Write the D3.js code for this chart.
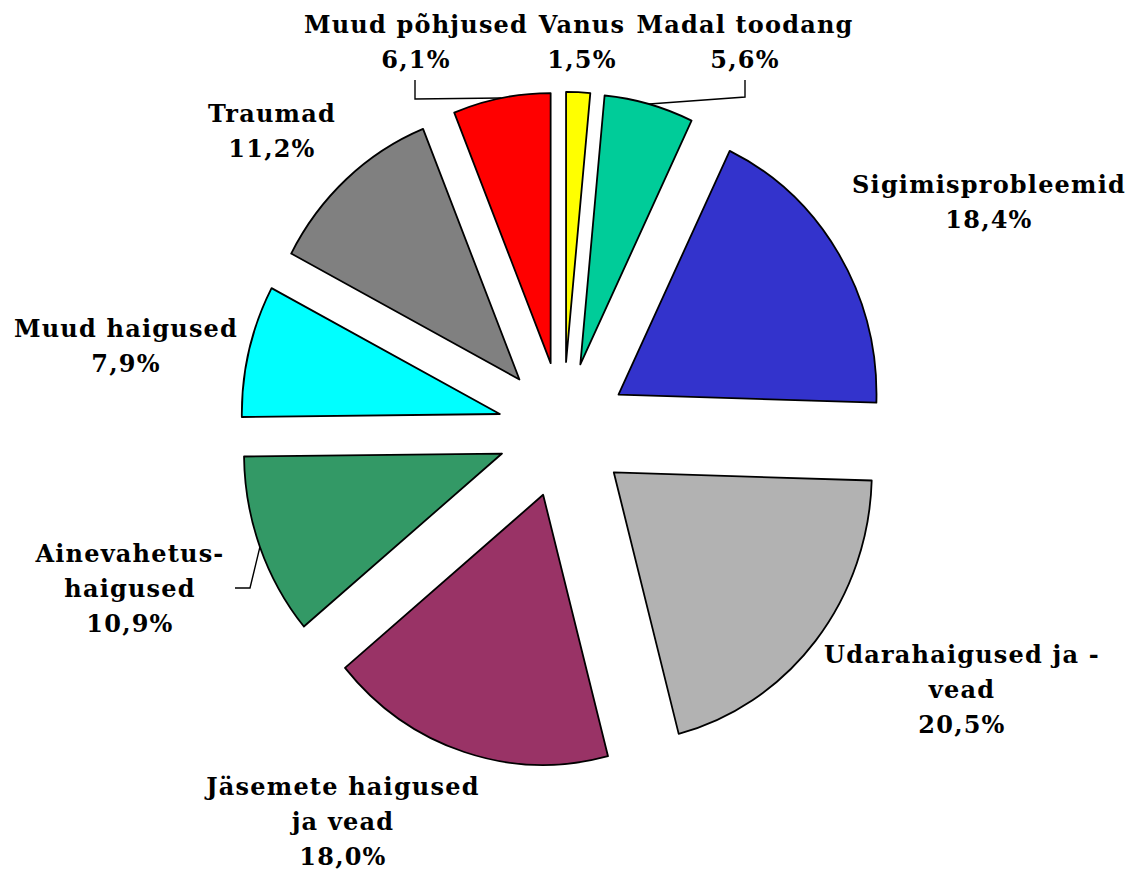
<!DOCTYPE html>
<html>
<head>
<meta charset="utf-8">
<script src="https://cdn.jsdelivr.net/npm/d3@7"></script>
<style>
  body { margin: 0; background: #fff; }
  .lbl { font-family: "DejaVu Serif", serif; font-weight: bold; font-size: 24px; letter-spacing: 1.2px; fill: #000; }
</style>
</head>
<body>
<div id="chart"></div>
<script>
// data
const categories = ["Vanus", "Madal toodang", "Sigimisprobleemid", "Udarahaigused ja -vead",
  "Jäsemete haigused ja vead", "Ainevahetus-haigused", "Muud haigused", "Traumad", "Muud põhjused"];
const labelLines = [["Vanus"], ["Madal toodang"], ["Sigimisprobleemid"], ["Udarahaigused ja -", "vead"],
  ["Jäsemete haigused", "ja vead"], ["Ainevahetus-", "haigused"], ["Muud haigused"], ["Traumad"], ["Muud põhjused"]];
const values = [1.5, 5.6, 18.4, 20.5, 18.0, 10.9, 7.9, 11.2, 6.1];
const colors = ["#FFFF00", "#00CC99", "#3333CC", "#B2B2B2", "#993366", "#339966", "#00FFFF", "#808080", "#FF0000"];

// layout
const width = 1130, height = 872;
const cx = 563, cy = 430, R = 258, sy = 1.047, explode = 65;
const lineH = 35;
// label centre x and first baseline y
const labelPos = [[582, 33], [745, 33], [989, 193], [962, 663], [343, 795], [130, 562], [126, 337], [272, 122], [416, 33]];
// leader lines: label-side points, the last point goes to the slice edge
const leaderPts = {1: [[745, 80], [745, 97]], 5: [[235, 588], [250, 588]], 8: [[415, 80], [415, 99]]};

const svg = d3.select("#chart").append("svg")
  .attr("width", width)
  .attr("height", height);

const pie = d3.pie().sort(null).value(d => d);
const arcs = pie(values);
const arc = d3.arc().innerRadius(0).outerRadius(R);

function offsetOf(d) {
  let m = (d.startAngle + d.endAngle) / 2;
  return [explode * Math.sin(m), -explode * Math.cos(m)];
}

svg.append("g")
  .selectAll("g.slice")
  .data(arcs)
  .enter()
  .append("g")
  .attr("class", "slice")
  .attr("transform", d => {
    let o = offsetOf(d);
    return "translate(" + cx + "," + cy + ") scale(1," + sy + ") translate(" + o[0] + "," + o[1] + ")";
  })
  .append("path")
  .attr("d", arc)
  .attr("fill", (d, i) => colors[i])
  .attr("stroke", "#000")
  .attr("stroke-width", 1.8)
  .attr("stroke-linejoin", "round")
  .attr("vector-effect", "non-scaling-stroke");

// leader lines to the arc at mid angle
let fmt = d3.format(".1f");
Object.keys(leaderPts).forEach(k => {
  let d = arcs[k];
  let m = (d.startAngle + d.endAngle) / 2;
  let o = offsetOf(d);
  let end = [cx + o[0] + R * Math.sin(m), cy + sy * (o[1] - R * Math.cos(m))];
  let pts = leaderPts[k].concat([end]);
  svg.append("path")
    .attr("d", d3.line()(pts))
    .attr("fill", "none")
    .attr("stroke", "#000")
    .attr("stroke-width", 1.4);
});

// labels
arcs.forEach((d, i) => {
  let lines = labelLines[i].concat([fmt(values[i]).replace(".", ",") + "%"]);
  let t = svg.append("text")
    .attr("class", "lbl")
    .attr("text-anchor", "middle");
  lines.forEach((s, j) => {
    t.append("tspan")
      .attr("x", labelPos[i][0])
      .attr("y", labelPos[i][1] + j * lineH)
      .text(s);
  });
});
</script>
</body>
</html>
